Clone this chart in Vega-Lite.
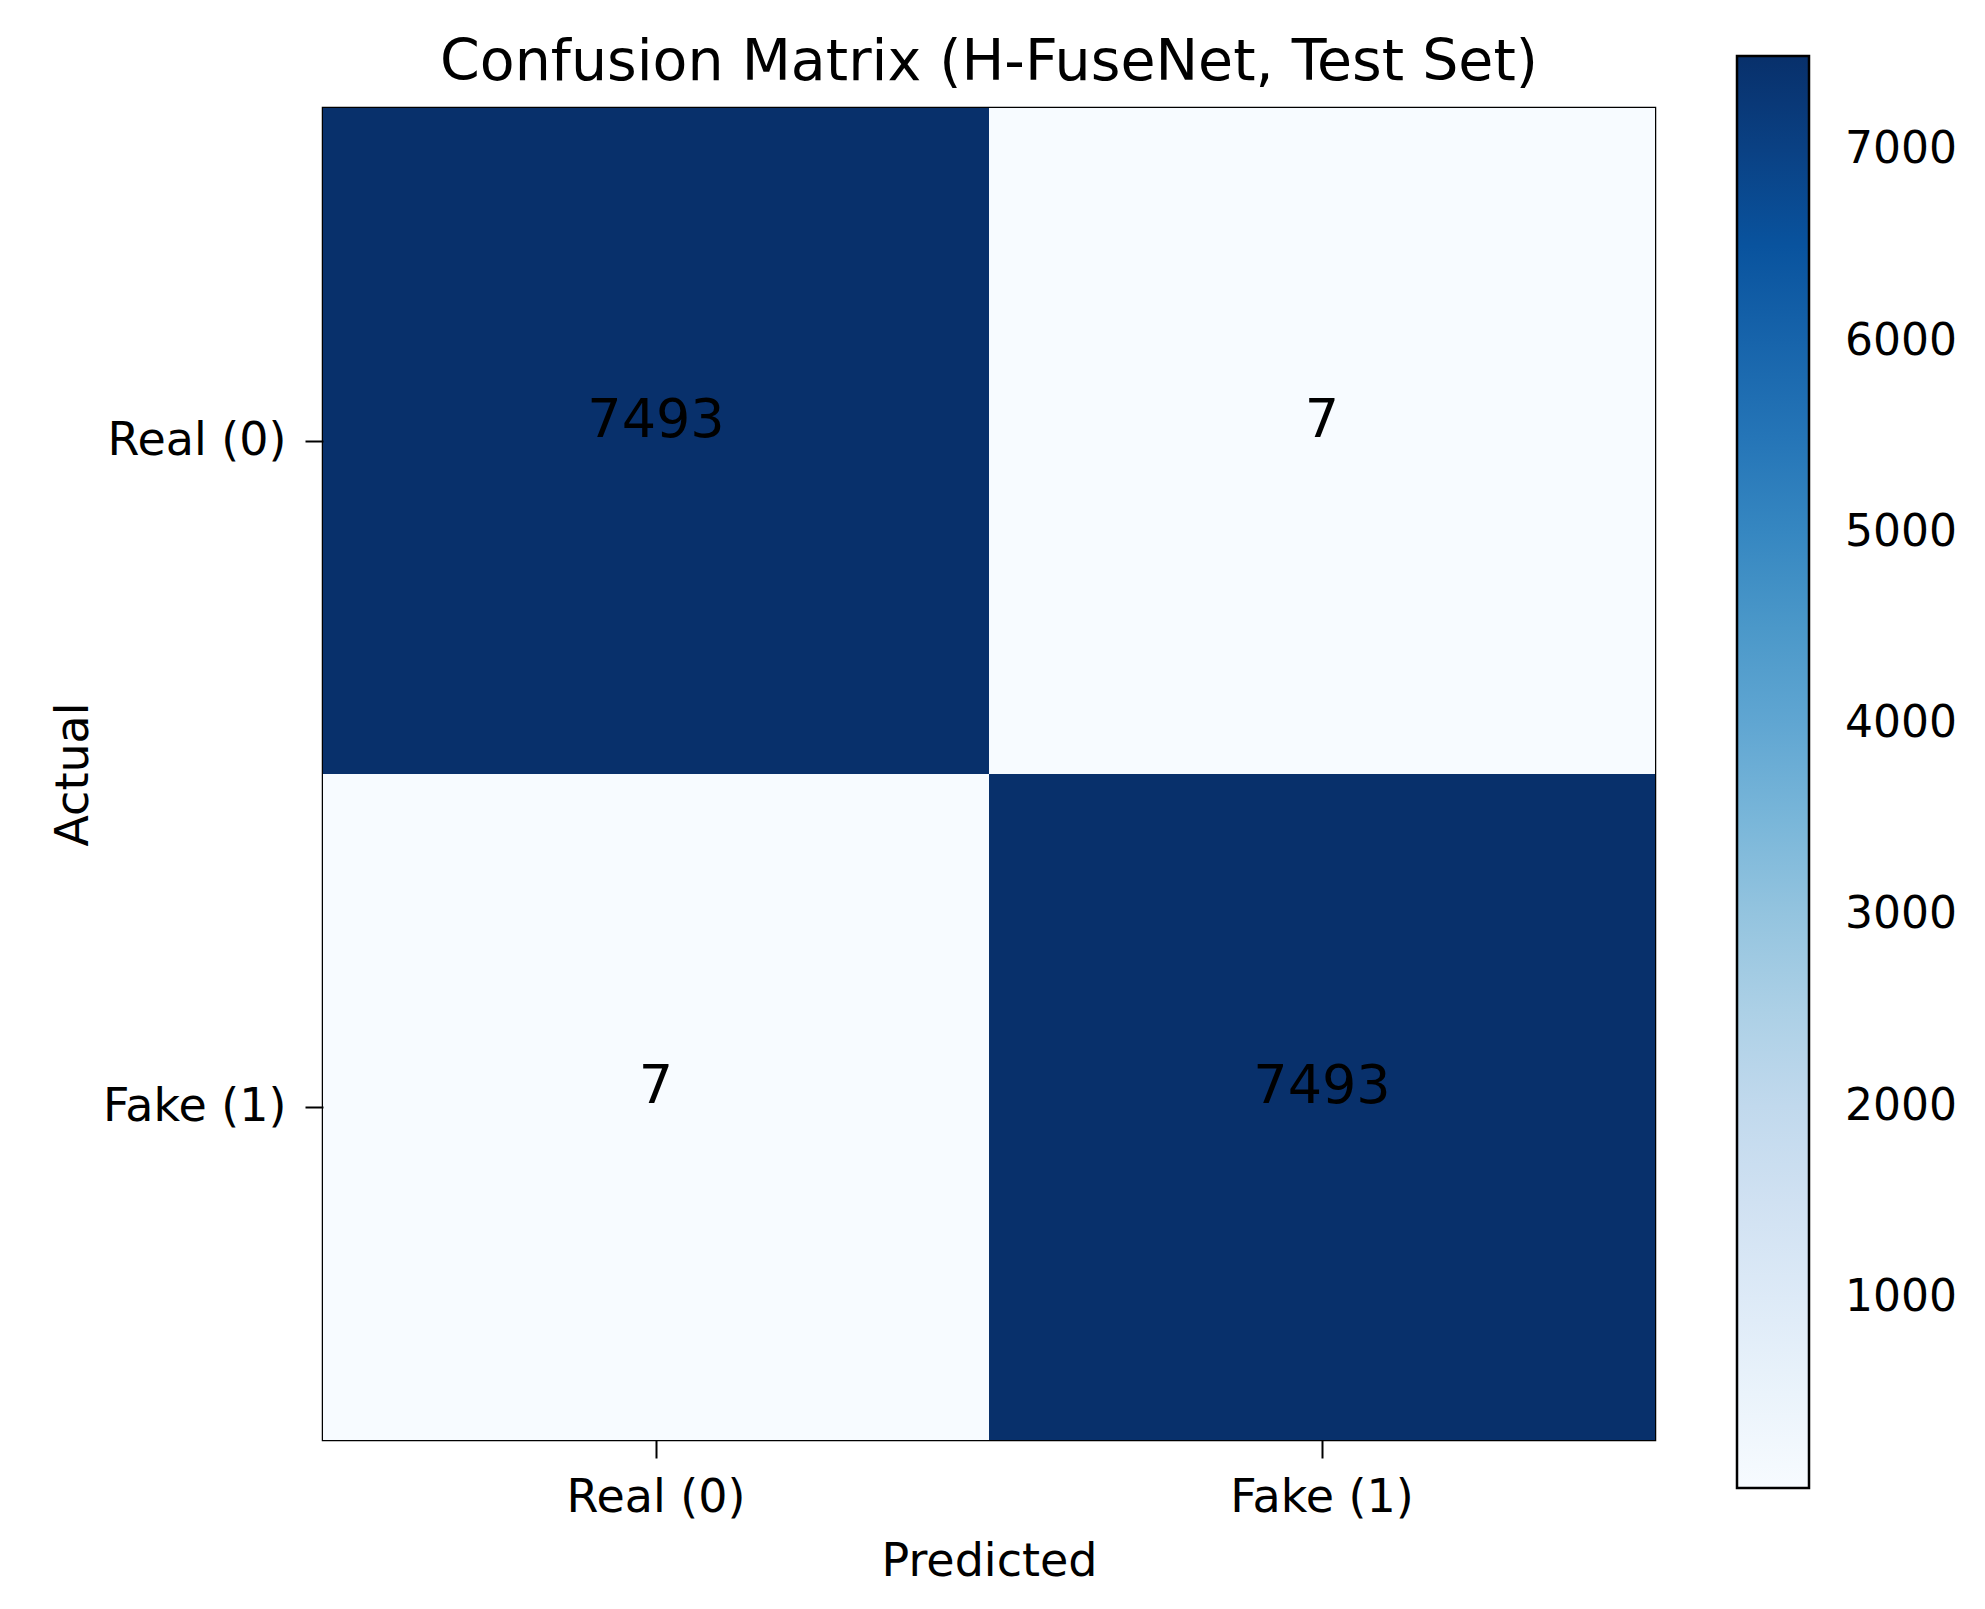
{
  "$schema": "https://vega.github.io/schema/vega-lite/v6.json",
  "autosize": {"type": "none"},
  "padding": {"left": 323, "top": 108, "right": 330, "bottom": 169},
  "width": 1332,
  "height": 1332,
  "background": "white",
  "title": {
    "text": "Confusion Matrix (H-FuseNet, Test Set)",
    "font": "DejaVu Sans",
    "fontSize": 57,
    "fontWeight": "normal",
    "color": "black",
    "anchor": "middle",
    "frame": "group",
    "offset": -36
  },
  "data": {
    "values": [
      {"Actual": "Real (0)", "Predicted": "Real (0)", "count": 7493},
      {"Actual": "Real (0)", "Predicted": "Fake (1)", "count": 7},
      {"Actual": "Fake (1)", "Predicted": "Real (0)", "count": 7},
      {"Actual": "Fake (1)", "Predicted": "Fake (1)", "count": 7493}
    ]
  },
  "encoding": {
    "x": {
      "field": "Predicted",
      "type": "nominal",
      "sort": ["Real (0)", "Fake (1)"],
      "scale": {"paddingInner": 0, "paddingOuter": 0},
      "axis": {
        "title": "Predicted",
        "labelAngle": 0,
        "domain": false,
        "tickSize": 18,
        "labelPadding": 17,
        "titlePadding": 19
      }
    },
    "y": {
      "field": "Actual",
      "type": "nominal",
      "sort": ["Real (0)", "Fake (1)"],
      "scale": {"paddingInner": 0, "paddingOuter": 0},
      "axis": {
        "title": "Actual",
        "domain": false,
        "tickSize": 18,
        "labelPadding": 19,
        "titlePadding": 26
      }
    }
  },
  "layer": [
    {
      "mark": "rect",
      "encoding": {
        "color": {
          "field": "count",
          "type": "quantitative",
          "scale": {
            "domain": [7, 7493],
            "range": ["#f7fbff", "#deebf7", "#c6dbef", "#9ecae1", "#6baed6", "#4292c6", "#2171b5", "#08519c", "#08306b"],
            "nice": false,
            "zero": false
          },
          "legend": {
            "title": null,
            "orient": "none",
            "direction": "vertical",
            "legendX": 1414,
            "legendY": -52,
            "gradientLength": 1432,
            "gradientThickness": 72,
            "gradientStrokeColor": "black",
            "gradientStrokeWidth": 2.5,
            "values": [1000, 2000, 3000, 4000, 5000, 6000, 7000],
            "format": "d",
            "labelOverlap": false,
            "labelOffset": 36,
            "labelFontSize": 44,
            "labelFont": "DejaVu Sans",
            "labelColor": "black"
          }
        }
      }
    },
    {
      "mark": {"type": "text", "baseline": "alphabetic", "dy": -4, "fontSize": 54, "font": "DejaVu Sans", "color": "black"},
      "encoding": {
        "text": {"field": "count", "type": "quantitative", "format": "d"}
      }
    }
  ],
  "config": {
    "view": {"stroke": "black", "strokeWidth": 2.5},
    "axis": {
      "labelFont": "DejaVu Sans",
      "labelFontSize": 46,
      "labelColor": "black",
      "labelLimit": 0,
      "titleFont": "DejaVu Sans",
      "titleFontSize": 46,
      "titleFontWeight": "normal",
      "titleColor": "black",
      "tickColor": "black",
      "tickWidth": 2,
      "grid": false
    }
  }
}
